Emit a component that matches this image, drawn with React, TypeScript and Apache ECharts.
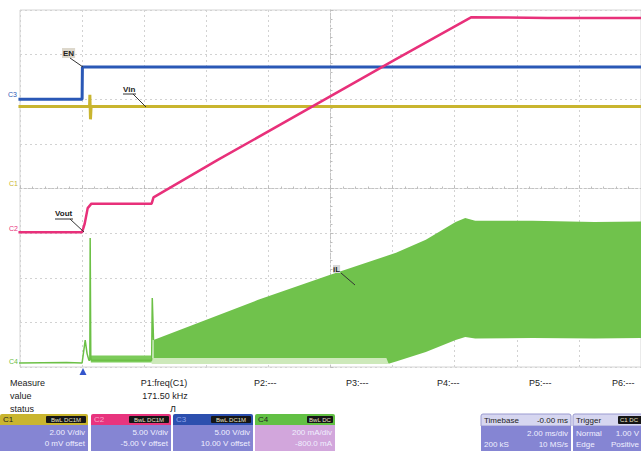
import React, { useEffect, useRef } from 'react';
import * as echarts from 'echarts';

// ---------- data ----------
// C1 : Vin (V)
const vinTime = [-2.05, 0.24, 0.25, 0.27, 0.29, 18.2];
const vinValue = [3.68, 3.68, 4.2, 3.1, 3.68, 3.68];

// C3 : EN (V)
const enTime = [-2.05, 0, 0.01, 18.2];
const enValue = [0, 0, 3.6, 3.6];

// C2 : Vout (V)
const voutTime = [-2.05, 0, 0.08, 0.18, 0.3, 2.24, 2.3, 4.37, 10.11, 12.54, 15.0, 18.2];
const voutValue = [0.1, 0.1, 1.0, 2.8, 3.3, 3.3, 4.0, 8.2, 19.5, 24.2, 24.1, 24.1];

// C4 : iL (mA) – single trace part
const ilTime = [-2.05, -0.5, 0, 0.1, 0.16, 0.22, 0.25, 0.26, 0.28, 0.3, 2.2, 2.24, 2.26, 2.3];
const ilValue = [18, 20, 18, 120, 60, 30, 30, 578, 40, 30, 30, 30, 309, 121];

// C4 : iL switching envelope (mA)
const envTime = [2.3, 3.73, 5.65, 7.97, 9.8, 9.87, 10.11, 11.07, 12.03, 12.34, 12.66, 14.5, 16.5, 18.2];
const envUpper = [121, 197, 300, 412, 498, 501, 512, 570, 650, 668, 655, 655, 650, 652];
const envLower = [40, 40, 40, 40, 40, 15, 25, 67, 121, 135, 128, 130, 128, 130];

// C4 : low level bands (mA)
const bandTime = [0.28, 2.24];
const bandValue = [36, 36];
const paleTime = [2.24, 9.85];
const paleValue = [27, 27];

// ---------- texts ----------
const traceLabels = ['EN', 'Vin', 'Vout', 'iL'];
const channelNames = ['C1', 'C2', 'C3', 'C4'];
const channelCoupling = ['BwL DC1M', 'BwL DC1M', 'BwL DC1M', 'BwL DC'];
const channelScales = ['2.00 V/div', '5.00 V/div', '5.00 V/div', '200 mA/div'];
const channelOffsets = ['0 mV offset', '-5.00 V offset', '10.00 V offset', '-800.0 mA'];
const measureRows = ['Measure', 'value', 'status'];
const measureParams = ['P2:---', 'P3:---', 'P4:---', 'P5:---', 'P6:---'];
const p1Texts = ['P1:freq(C1)', '171.50 kHz', 'Л'];
const timebaseTexts = ['Timebase', '-0.00 ms', '2.00 ms/div', '200 kS', '10 MS/s'];
const triggerTexts = ['Trigger', 'C1 DC', 'Normal', '1.00 V', 'Edge', 'Positive'];

const FONT = 'Liberation Sans, Arial, sans-serif';
const YELLOW = '#c9b52f';
const PINK = '#e8307a';
const BLUE = '#2a58b6';
const GREEN = '#6cc046';

const pairs = (x: number[], y: number[]) => x.map((t, i) => [t, y[i]]);

function txt(x: number, y: number, text: string, o: any = {}) {
  return {
    type: 'text',
    x,
    y,
    silent: true,
    z: 100,
    style: {
      text,
      fill: o.fill || '#222',
      fontSize: o.size || 8,
      fontFamily: FONT,
      fontWeight: o.weight || 'normal',
      align: o.align || 'left',
      textAlign: o.align || 'left',
      verticalAlign: 'middle',
      textVerticalAlign: 'middle',
      backgroundColor: o.bg,
      padding: o.pad,
    },
  };
}
function rect(x: number, y: number, w: number, h: number, fill: string, r: any = 0, stroke?: string) {
  return {
    type: 'rect',
    silent: true,
    z: 90,
    shape: { x, y, width: w, height: h, r },
    style: { fill, stroke: stroke || null, lineWidth: stroke ? 1 : 0 },
  };
}
function seg(x1: number, y1: number, x2: number, y2: number, color = '#333', w = 1) {
  return {
    type: 'line',
    silent: true,
    z: 100,
    shape: { x1, y1, x2, y2 },
    style: { stroke: color, lineWidth: w },
  };
}

function line(data: number[][], yIdx: number, color: string, width: number, z: number) {
  return {
    type: 'line',
    xAxisIndex: 0,
    yAxisIndex: yIdx,
    data,
    symbol: 'none',
    showSymbol: false,
    silent: true,
    z,
    lineStyle: { color, width, cap: 'butt' },
  };
}

export default function App() {
  const ref = useRef<HTMLDivElement>(null);

  useEffect(() => {
    if (!ref.current) return;
    const chart = echarts.init(ref.current, undefined, { renderer: 'svg' });

    const graphic: any[] = [];
    // trace name annotations
    graphic.push(txt(62, 53, traceLabels[0], { weight: 'bold', bg: '#ddd8cc', pad: [1, 1] }));
    graphic.push(seg(70, 58, 83, 67));
    graphic.push(txt(123, 89, traceLabels[1], { weight: 'bold' }));
    graphic.push(seg(123, 94, 136, 94));
    graphic.push(seg(133, 94, 146, 107));
    graphic.push(txt(55, 213, traceLabels[2], { weight: 'bold' }));
    graphic.push(seg(55, 219, 73, 219));
    graphic.push(seg(70, 219, 84, 232));
    graphic.push(txt(333, 269, traceLabels[3], { weight: 'bold', bg: '#d8d8d8' }));
    graphic.push(seg(341, 273, 355, 285));
    // channel ground markers
    graphic.push(txt(8, 94, channelNames[2], { fill: BLUE, size: 7 }));
    graphic.push(txt(9, 183, channelNames[0], { fill: YELLOW, size: 7 }));
    graphic.push(txt(9, 228, channelNames[1], { fill: PINK, size: 7 }));
    graphic.push(txt(9, 361, channelNames[3], { fill: GREEN, size: 7 }));
    // trigger position marker
    graphic.push({
      type: 'polygon',
      silent: true,
      z: 100,
      shape: { points: [[79.5, 375], [86.5, 375], [83, 368]] },
      style: { fill: '#3355cc' },
    });

    // measure area
    measureRows.forEach((t, i) => graphic.push(txt(10, 383 + i * 13, t, { size: 9 })));
    graphic.push(txt(164, 383, p1Texts[0], { size: 9, align: 'center' }));
    graphic.push(txt(165, 396, p1Texts[1], { size: 9, align: 'center' }));
    graphic.push(txt(173, 409, p1Texts[2], { size: 9, align: 'center' }));
    const pX = [254, 346, 437, 529, 612];
    measureParams.forEach((t, i) => graphic.push(txt(pX[i], 383, t, { size: 9 })));

    // channel panels
    const panelX = [0, 91, 173, 255];
    const panelW = [88, 80, 80, 80];
    const headColor = [YELLOW, '#e8347e', '#2c4fae', '#62c044'];
    const bodyColor = ['#8585d3', '#8585d3', '#8585d3', '#d2a6dc'];
    const headLabel = ['#222', '#f9a6c8', '#8ea4ea', '#222'];
    channelNames.forEach((n, i) => {
      const x = panelX[i];
      const w = panelW[i];
      const r = x + w;
      graphic.push(rect(x, 414, w, 11, headColor[i], [2, 2, 0, 0]));
      graphic.push(rect(x, 425, w, 27, bodyColor[i], 0));
      graphic.push(txt(x + 3, 419.5, n, { size: 8, fill: headLabel[i] }));
      const bw = i === 3 ? 26 : 40;
      graphic.push(rect(r - bw - 2, 416, bw, 7, '#151515', 1));
      graphic.push(txt(r - 2 - bw / 2, 419.5, channelCoupling[i], { size: 6, align: 'center', fill: '#e8e4c8' }));
      graphic.push(txt(r - 3, 432.5, channelScales[i], { size: 8, align: 'right', fill: '#f0f0ff' }));
      graphic.push(txt(r - 3, 443.5, channelOffsets[i], { size: 8, align: 'right', fill: '#f0f0ff' }));
    });

    // timebase panel
    graphic.push(rect(481, 414, 90, 12, '#d6d6f0', [2, 2, 0, 0], '#9a9ad0'));
    graphic.push(rect(481, 426, 90, 26, '#8585d3', 0));
    graphic.push(txt(484, 420, timebaseTexts[0], { size: 8 }));
    graphic.push(txt(568, 420, timebaseTexts[1], { size: 8, align: 'right' }));
    graphic.push(txt(568, 433, timebaseTexts[2], { size: 8, align: 'right', fill: '#f0f0ff' }));
    graphic.push(txt(484, 444, timebaseTexts[3], { size: 8, fill: '#f0f0ff' }));
    graphic.push(txt(568, 444, timebaseTexts[4], { size: 8, align: 'right', fill: '#f0f0ff' }));
    // trigger panel
    graphic.push(rect(573, 414, 80, 12, '#d6d6f0', [2, 2, 0, 0], '#9a9ad0'));
    graphic.push(rect(573, 426, 80, 26, '#8585d3', 0));
    graphic.push(txt(576, 420, triggerTexts[0], { size: 8 }));
    graphic.push(rect(618, 416, 30, 8, '#151515', 1));
    graphic.push(txt(620, 420, triggerTexts[1], { size: 6, fill: '#e8e4c8' }));
    graphic.push(txt(576, 433, triggerTexts[2], { size: 8, fill: '#f0f0ff' }));
    graphic.push(txt(639, 433, triggerTexts[3], { size: 8, align: 'right', fill: '#f0f0ff' }));
    graphic.push(txt(576, 444, triggerTexts[4], { size: 8, fill: '#f0f0ff' }));
    graphic.push(txt(639, 444, triggerTexts[5], { size: 8, align: 'right', fill: '#f0f0ff' }));

    const gridColor = '#d2d2d2';
    const option: any = {
      animation: false,
      backgroundColor: '#ffffff',
      grid: {
        left: 20,
        top: 10,
        width: 627,
        height: 357,
        show: true,
        borderColor: '#d4d4d4',
        borderWidth: 1,
        backgroundColor: 'transparent',
      },
      xAxis: [
        {
          type: 'value',
          min: -2,
          max: 18,
          interval: 2,
          axisLine: {
            show: true,
            onZero: true,
            onZeroAxisIndex: 0,
            lineStyle: { color: '#c2c2c2', type: [2, 2], width: 1 },
          },
          axisTick: { show: true, inside: true, length: 3, lineStyle: { color: '#bdbdbd' } },
          minorTick: { show: true, splitNumber: 5, length: 2, lineStyle: { color: '#bdbdbd' } },
          axisLabel: { show: false },
          splitLine: { show: true, lineStyle: { color: gridColor, type: [2, 3] } },
        },
        { type: 'value', min: -10, max: 10, show: false },
      ],
      yAxis: [
        {
          type: 'value',
          min: -8,
          max: 8,
          interval: 2,
          axisLine: {
            show: true,
            onZero: true,
            onZeroAxisIndex: 1,
            lineStyle: { color: '#c2c2c2', type: [2, 2], width: 1 },
          },
          axisTick: { show: true, inside: true, length: 3, lineStyle: { color: '#bdbdbd' } },
          minorTick: { show: true, splitNumber: 5, length: 2, lineStyle: { color: '#bdbdbd' } },
          axisLabel: { show: false },
          splitLine: { show: true, lineStyle: { color: gridColor, type: [2, 3] } },
        },
        { type: 'value', min: -15, max: 25, show: false },
        { type: 'value', min: -30, max: 10, show: false },
        { type: 'value', min: 0, max: 1600, show: false },
      ],
      series: [
        line(pairs(paleTime, paleValue), 3, '#cde9ba', 6, 2),
        line(pairs(bandTime, bandValue), 3, '#7ccb5a', 7, 3),
        line(pairs(ilTime, ilValue), 3, GREEN, 1.5, 4),
        {
          type: 'custom',
          xAxisIndex: 0,
          yAxisIndex: 3,
          data: [[8, 800]],
          silent: true,
          z: 5,
          clip: true,
          renderItem: (_params: any, api: any) => {
            const pts: number[][] = [];
            envTime.forEach((t, i) => pts.push(api.coord([t, envUpper[i]])));
            for (let i = envTime.length - 1; i >= 0; i--) pts.push(api.coord([envTime[i], envLower[i]]));
            return { type: 'polygon', shape: { points: pts }, style: { fill: '#70c24c' } };
          },
        },
        line(pairs(vinTime, vinValue), 0, YELLOW, 3, 6),
        line(pairs(enTime, enValue), 2, BLUE, 3, 7),
        line(pairs(voutTime, voutValue), 1, PINK, 2.5, 8),
      ],
      graphic,
    };
    chart.setOption(option);
    return () => chart.dispose();
  }, []);

  return (
    <div
      ref={ref}
      style={{ position: 'absolute', left: 0, top: 0, width: 641, height: 451, background: '#fff' }}
    />
  );
}
